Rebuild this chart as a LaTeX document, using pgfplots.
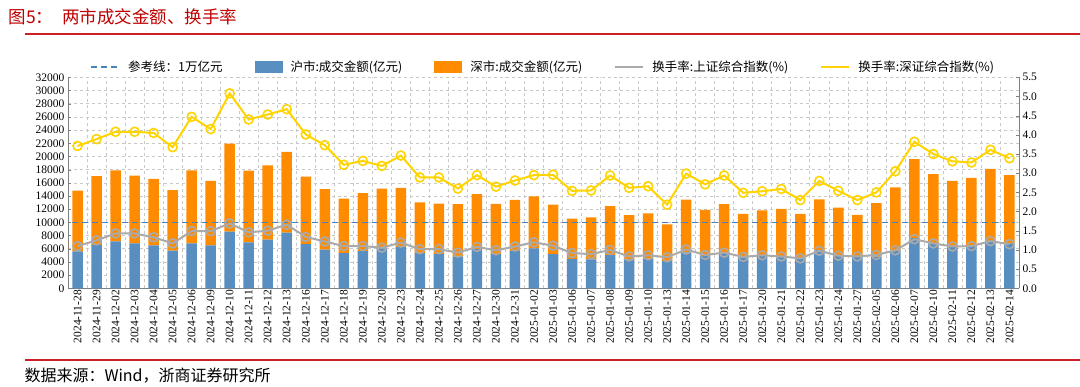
\documentclass[border=0pt]{standalone}
\usepackage{fontspec}
\setmainfont{Liberation Serif}
\newfontfamily\cjk{Noto Sans CJK SC}
\usepackage{pgfplots}
\usepackage{pgfplotstable}
\pgfplotsset{compat=1.18}
\definecolor{shblue}{RGB}{88,142,192}
\definecolor{szorange}{RGB}{255,140,0}
\definecolor{tgray}{RGB}{170,170,170}
\definecolor{tyellow}{RGB}{255,212,0}
\definecolor{refblue}{RGB}{70,130,190}
\definecolor{titlered}{RGB}{192,0,0}
\definecolor{rulered}{RGB}{204,32,38}
\definecolor{gridgray}{RGB}{200,200,200}

\pgfplotstableread{
x sh sz tsh tsz
0 5600 9200 1.10 3.71
1 6600 10400 1.25 3.89
2 7100 10800 1.43 4.08
3 6800 10300 1.43 4.08
4 6500 10100 1.33 4.05
5 5700 9200 1.17 3.68
6 6800 11100 1.49 4.47
7 6500 9800 1.49 4.15
8 8600 13350 1.69 5.08
9 6950 10900 1.46 4.40
10 7400 11250 1.50 4.53
11 8450 12250 1.66 4.67
12 6700 10250 1.34 4.01
13 5850 9200 1.22 3.73
14 5350 8250 1.10 3.22
15 5650 8800 1.10 3.32
16 6050 9050 1.06 3.19
17 6250 9000 1.19 3.46
18 5350 7700 1.02 2.89
19 5200 7650 1.02 2.89
20 4850 7900 0.93 2.60
21 5950 8350 1.08 2.95
22 5200 7600 0.99 2.65
23 5650 7750 1.09 2.81
24 6050 7900 1.20 2.95
25 5200 7500 1.11 2.96
26 4450 6100 0.92 2.54
27 4400 6350 0.89 2.55
28 5050 7400 1.00 2.94
29 4400 6700 0.83 2.62
30 4500 6850 0.86 2.66
31 4150 5550 0.81 2.18
32 5450 8000 1.01 2.99
33 4900 7000 0.87 2.71
34 5400 7350 0.93 2.94
35 4700 6600 0.82 2.49
36 5000 6800 0.86 2.53
37 4800 7250 0.83 2.59
38 4550 6750 0.78 2.30
39 5800 7700 0.98 2.80
40 5000 7250 0.85 2.54
41 4800 6350 0.83 2.30
42 4800 8100 0.87 2.50
43 5700 9600 0.99 3.05
44 7600 12000 1.28 3.82
45 6900 10400 1.17 3.50
46 6450 9850 1.09 3.31
47 6450 10300 1.10 3.28
48 7000 11100 1.23 3.61
49 6800 10350 1.15 3.39
}\data

\pgfplotsset{
  common/.style={
    scale only axis,
    width=951pt, height=211pt,
    at={(68pt,-288.3pt)}, anchor=south west,
    xmin=-0.5, xmax=49.5,
    /pgf/number format/assume math mode=true,
    tick label style={font=\fontsize{11.5}{12}\selectfont, text=black},
  },
  linelegend/.style={legend image code/.code={
    \draw[##1] (0pt,0pt) -- (28pt,0pt);}},
}

\begin{document}
\begin{tikzpicture}
\path[use as bounding box, fill=white] (0,0) rectangle (1080pt,-386pt);
% title
\node[anchor=west, text=titlered, font=\cjk\fontsize{17.5}{20}\selectfont] at (5pt,-17pt) {图5：\hspace{9pt}两市成交金额、换手率};
\draw[rulered, line width=1.6pt] (25pt,-34pt) -- (1080pt,-34pt);
\draw[rulered, line width=1.6pt] (25pt,-360pt) -- (1080pt,-360pt);
\node[anchor=west, font=\cjk\fontsize{16}{18}\selectfont] at (21pt,-376pt) {数据来源：Wind，浙商证券研究所};

% bars
\begin{axis}[common,
  ybar stacked, bar width=10.5pt,
  ymin=0, ymax=32000,
  ytick={0,2000,...,32000},
  scaled y ticks=false,
  /pgf/number format/1000 sep={},
  xtick={0,...,49},
  xticklabels={2024-11-28,2024-11-29,2024-12-02,2024-12-03,2024-12-04,2024-12-05,2024-12-06,2024-12-09,2024-12-10,2024-12-11,2024-12-12,2024-12-13,2024-12-16,2024-12-17,2024-12-18,2024-12-19,2024-12-20,2024-12-23,2024-12-24,2024-12-25,2024-12-26,2024-12-27,2024-12-30,2024-12-31,2025-01-02,2025-01-03,2025-01-06,2025-01-07,2025-01-08,2025-01-09,2025-01-10,2025-01-13,2025-01-14,2025-01-15,2025-01-16,2025-01-17,2025-01-20,2025-01-21,2025-01-22,2025-01-23,2025-01-24,2025-01-27,2025-02-05,2025-02-06,2025-02-07,2025-02-10,2025-02-11,2025-02-12,2025-02-13,2025-02-14},
  xticklabel style={rotate=90, anchor=east, inner sep=1.5pt},
  minor xtick={0.5,1.5,...,48.5},
  xminorgrids=true, ymajorgrids=true,
  minor grid style={gridgray, dashed, line width=0.6pt},
  major grid style={gridgray, dashed, line width=0.6pt},
  axis x line*=bottom, axis y line*=left,
  axis line style={gray, line width=0.8pt},
  major tick length=3pt, minor tick length=0pt,
  ytick style={gray}, xtick style={draw=none},
]
\addplot[fill=shblue, draw=none] table[x=x, y=sh] {\data};
\addplot[fill=szorange, draw=none] table[x=x, y=sz] {\data};
\end{axis}

% reference line
\begin{axis}[common, hide axis, ymin=0, ymax=32000]
\addplot[refblue, dashed, line width=1.3pt, dash pattern=on 6pt off 4pt] coordinates {(-0.3,10000) (49.3,10000)};
\end{axis}

% turnover lines
\begin{axis}[common,
  ymin=0, ymax=5.5,
  ytick={0,0.5,...,5.5},
  yticklabel style={/pgf/number format/.cd, fixed, fixed zerofill, precision=1},
  axis x line=none, axis y line*=right,
  axis line style={gray, line width=0.8pt},
  ytick style={gray}, major tick length=3pt,
  legend columns=5,
  legend style={at={(0.5,1)}, anchor=south, yshift=0pt, draw=none, fill=none,
    font=\cjk\fontsize{12.5}{14}\selectfont,
    /tikz/every odd column/.append style={column sep=6pt},
    /tikz/every even column/.append style={column sep=30pt}},
]
\addlegendimage{linelegend, refblue, dashed, line width=1.3pt, dash pattern=on 6pt off 4pt}
\addlegendentry{参考线：1万亿元}
\addlegendimage{area legend, fill=shblue, draw=none, legend image code/.code={\fill[shblue] (0pt,-6pt) rectangle (28pt,6pt);}}
\addlegendentry{沪市:成交金额(亿元)}
\addlegendimage{area legend, fill=szorange, draw=none, legend image code/.code={\fill[szorange] (0pt,-6pt) rectangle (28pt,6pt);}}
\addlegendentry{深市:成交金额(亿元)}
\addplot[tgray, line width=2pt, mark=o, mark size=4.5pt, mark options={line width=1.6pt}, linelegend] table[x=x, y=tsh] {\data};
\addlegendentry{换手率:上证综合指数(\%)}
\addplot[tyellow, line width=2pt, mark=o, mark size=4.5pt, mark options={line width=1.6pt}, linelegend] table[x=x, y=tsz] {\data};
\addlegendentry{换手率:深证综合指数(\%)}
\end{axis}
\end{tikzpicture}
\end{document}
